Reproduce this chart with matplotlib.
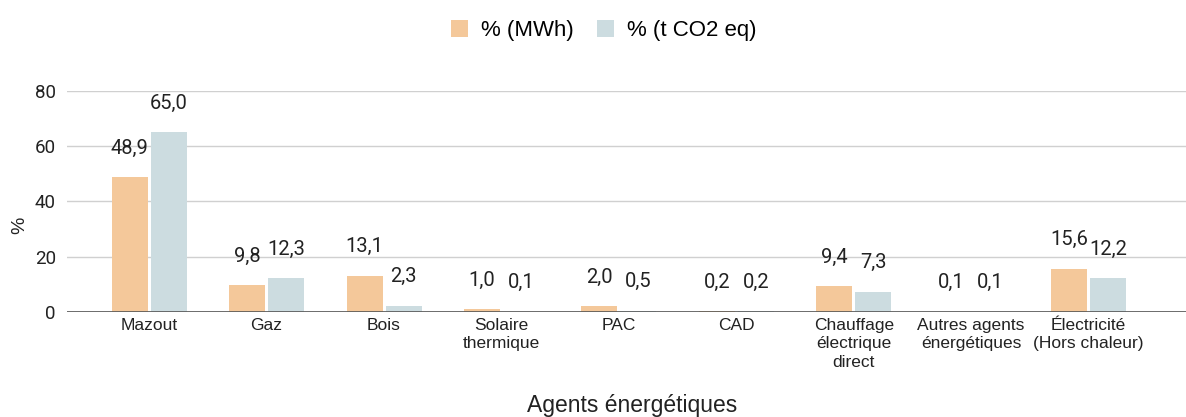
import numpy as np
import matplotlib
matplotlib.use("Agg")
import matplotlib.pyplot as plt

plt.rcParams['font.family'] = ['Roboto', 'DejaVu Sans']
arial = ['Liberation Sans', 'DejaVu Sans']

# data
categories = ['Mazout', 'Gaz', 'Bois', 'Solaire\nthermique', 'PAC', 'CAD',
              'Chauffage\nélectrique\ndirect', 'Autres agents\nénergétiques',
              'Électricité\n(Hors chaleur)']
mwh = [48.9, 9.8, 13.1, 1.0, 2.0, 0.2, 9.4, 0.1, 15.6]
co2 = [65.0, 12.3, 2.3, 0.1, 0.5, 0.2, 7.3, 0.1, 12.2]
series_names = ['% (MWh)', '% (t CO2 eq)']
colors = ['#F4C89A', '#CCDCE0']

fig = plt.figure(figsize=(11.86, 4.17), dpi=100)
ax = fig.add_axes([0.0565, 0.2518, 0.9435, 0.53])

x = np.arange(len(categories))
w = 0.307
off = 0.166
b1 = ax.bar(x - off, mwh, w, color=colors[0], label=series_names[0], zorder=3)
b2 = ax.bar(x + off, co2, w, color=colors[1], label=series_names[1], zorder=3)

for bars, vals in [(b1, mwh), (b2, co2)]:
    for rect, v in zip(bars, vals):
        ax.annotate(f'{v:.1f}'.replace('.', ','),
                    (rect.get_x() + rect.get_width() / 2, rect.get_height()),
                    xytext=(0, 29), textcoords='offset pixels',
                    ha='center', va='center', fontsize=14.5, color='#222222')

ax.set_xlim(-0.70, 8.83)
ax.set_ylim(0, 80)
ax.set_yticks([0, 20, 40, 60, 80])
ax.yaxis.grid(True, color='#d0d0d0', linewidth=1, zorder=0)
ax.axhline(0, color='#555555', linewidth=1.2, zorder=4)
for s in ax.spines.values():
    s.set_visible(False)
ax.tick_params(axis='y', length=0, labelsize=13.5, pad=8, labelcolor='#222222')
ax.tick_params(axis='x', length=0, pad=4, labelcolor='#222222')
ax.set_xticks(x)
ax.set_xticklabels(categories, linespacing=1.3, va='top', fontsize=12.5, family=arial)
ax.set_ylabel('%', fontsize=14, color='#222222', family=arial)
ax.yaxis.set_label_coords(-0.035, 0.394)
ax.set_xlabel('Agents énergétiques', fontsize=16.5, color='#222222', family=arial)
ax.xaxis.set_label_coords(0.5054, -0.373)

fig.legend(loc='upper center', bbox_to_anchor=(0.509, 1.0), ncol=2, frameon=False,
           prop={'family': arial, 'size': 16}, handlelength=0.77, handleheight=0.77,
           columnspacing=1.08, handletextpad=0.58)

fig.savefig('out.png', dpi=100, facecolor='white')
